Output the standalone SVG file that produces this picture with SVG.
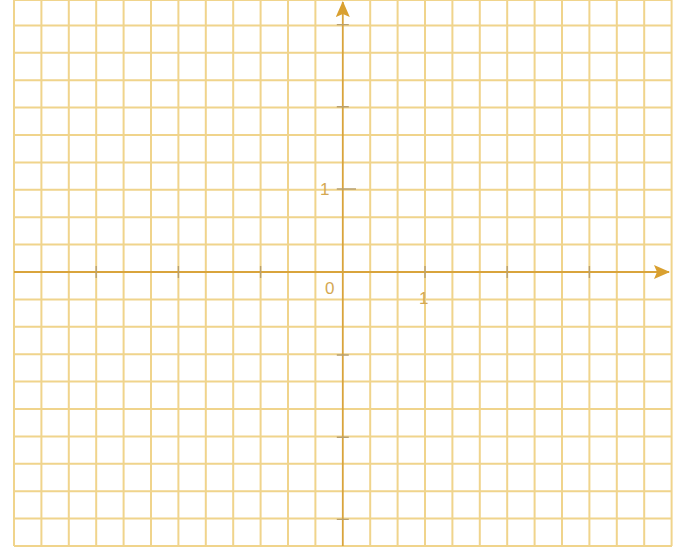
<svg xmlns="http://www.w3.org/2000/svg" width="688" height="551" viewBox="0 0 688 551">
<style>
.grid{stroke:#f0d48c;stroke-width:2;fill:none}
.axis{stroke:#d9a43c;stroke-width:1.8;fill:none}
.tick{stroke:#b8a070;stroke-width:1.4}
.lbl{font-family:"Liberation Sans",Arial,sans-serif;font-size:17px;fill:#d4a852}
</style>
<defs>
<marker id="arr" viewBox="0 0 16 14" refX="15" refY="7" markerWidth="16" markerHeight="14" markerUnits="userSpaceOnUse" orient="auto">
<path d="M0,0 L16,7 L0,14 L3,7 Z" fill="#d9a030"/>
</marker>
</defs>
<rect width="688" height="551" fill="#ffffff"/>
<g id="grid" class="grid">
<path d="M14,0V546 M41.4,0V546 M68.8,0V546 M96.2,0V546 M123.6,0V546 M151,0V546 M178.4,0V546 M205.8,0V546 M233.2,0V546 M260.6,0V546 M288,0V546 M315.4,0V546 M370.2,0V546 M397.6,0V546 M425,0V546 M452.4,0V546 M479.8,0V546 M507.2,0V546 M534.6,0V546 M562,0V546 M589.4,0V546 M616.8,0V546 M644.2,0V546 M671.6,0V546"/>
<path d="M14,0H672 M14,25.4H672 M14,52.8H672 M14,80.2H672 M14,107.6H672 M14,135H672 M14,162.4H672 M14,189.8H672 M14,217.2H672 M14,244.6H672 M14,299.4H672 M14,326.8H672 M14,354.2H672 M14,381.6H672 M14,409H672 M14,436.4H672 M14,463.8H672 M14,491.2H672 M14,518.6H672 M14,546H672"/>
</g>
<g id="axes">
<line class="axis" x1="14" y1="272" x2="669" y2="272" marker-end="url(#arr)"/>
<line class="axis" x1="342.8" y1="546" x2="342.8" y2="2" marker-end="url(#arr)"/>
</g>
<g id="ticks" class="tick">
<path d="M96.2,266V278 M178.4,266V278 M260.6,266V278 M425,266V278 M507.2,266V278 M589.4,266V278"/>
<path d="M336.8,24.6H348.8 M336.8,106.8H348.8 M336.8,189H356 M336.8,355H348.8 M336.8,437.2H348.8 M336.8,519.4H348.8"/>
</g>
<g id="labels">
<text class="lbl" x="320" y="195">1</text>
<text class="lbl" x="325" y="294">0</text>
<text class="lbl" x="419" y="304">1</text>
</g>
</svg>
